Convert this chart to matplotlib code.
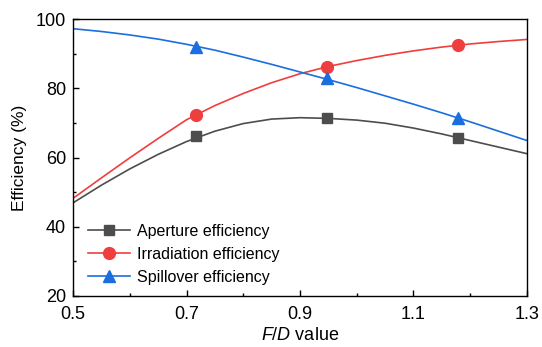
import numpy as np
import matplotlib
matplotlib.use('Agg')
import matplotlib.pyplot as plt
from matplotlib.ticker import FixedLocator

plt.rcParams['font.family'] = ['Liberation Sans', 'DejaVu Sans']
plt.rcParams['mathtext.fontset'] = 'custom'
plt.rcParams['mathtext.rm'] = 'Liberation Sans'
plt.rcParams['mathtext.it'] = 'Liberation Sans:italic'

# fitted curves, sampled every 0.05 in F/D
fd_curve = [0.5, 0.55, 0.6, 0.65, 0.7, 0.75, 0.8, 0.85, 0.9, 0.95,
            1.0, 1.05, 1.1, 1.15, 1.2, 1.25, 1.3]
aperture_curve = [46.9, 52.0, 56.7, 60.9, 64.6, 67.6, 69.8, 71.1, 71.5, 71.3,
                  70.8, 69.9, 68.5, 66.8, 64.9, 63.0, 61.1]
irradiation_curve = [48.2, 54.1, 59.9, 65.5, 70.9, 75.0, 78.5, 81.6, 84.2, 86.3,
                     88.0, 89.5, 90.8, 91.9, 92.8, 93.5, 94.1]
spillover_curve = [97.2, 96.4, 95.4, 94.2, 92.7, 91.0, 89.0, 86.9, 84.7, 82.5,
                   80.2, 77.8, 75.4, 72.9, 70.3, 67.6, 64.9]

# simulated points
fd_points = [0.716, 0.947, 1.178]
aperture_pts = [66.3, 71.3, 65.6]
irradiation_pts = [72.3, 86.2, 92.5]
spillover_pts = [92.0, 82.9, 71.5]

x_ticks = [0.5, 0.7, 0.9, 1.1, 1.3]
x_minor = [0.6, 0.8, 1.0, 1.2]
y_ticks = [20, 40, 60, 80, 100]
y_minor = [30, 50, 70, 90]

series = [
    ('Aperture efficiency', aperture_curve, aperture_pts, '#4d4d4d', 's', 6.5),
    ('Irradiation efficiency', irradiation_curve, irradiation_pts, '#ef3e3e', 'o', 8.5),
    ('Spillover efficiency', spillover_curve, spillover_pts, '#1a6ee0', '^', 9.0),
]

fig = plt.figure(figsize=(5.42, 3.47), dpi=100)
ax = fig.add_axes([0.1347, 0.147, 0.8376, 0.7982])

handles = []
for name, curve, pts, col, mk, ms in series:
    ax.plot(fd_curve, curve, color=col, lw=1.2, zorder=2)
    ax.plot(fd_points, pts, linestyle='none', marker=mk, ms=ms, color=col, zorder=3)
    h, = ax.plot([], [], color=col, lw=1.2, marker=mk, ms=ms, label=name)
    handles.append(h)

ax.set_xlim(0.5, 1.3)
ax.set_ylim(20, 100)
ax.xaxis.set_major_locator(FixedLocator(x_ticks))
ax.xaxis.set_minor_locator(FixedLocator(x_minor))
ax.yaxis.set_major_locator(FixedLocator(y_ticks))
ax.yaxis.set_minor_locator(FixedLocator(y_minor))
ax.set_xticklabels(['%.1f' % v for v in x_ticks])
ax.set_yticklabels([str(v) for v in y_ticks])
ax.tick_params(which='both', direction='in', top=False, right=False,
               labelsize=13, width=1.0)
ax.tick_params(which='major', length=4.5, pad=5)
ax.tick_params(axis='x', which='major', pad=7)
ax.tick_params(which='minor', length=2.5)
for s in ax.spines.values():
    s.set_linewidth(1.0)

ax.set_xlabel(r'$\mathit{F/D}$ value', fontsize=13, labelpad=3)
ax.set_ylabel('Efficiency (%)', fontsize=12.5, labelpad=6)

ax.legend(handles=handles, loc='lower left', bbox_to_anchor=(0.033, 0.04),
          frameon=False, fontsize=11.5, handlelength=2.6, handletextpad=0.45,
          labelspacing=0.5, borderpad=0, borderaxespad=0)

fig.savefig('out.png', dpi=100)
